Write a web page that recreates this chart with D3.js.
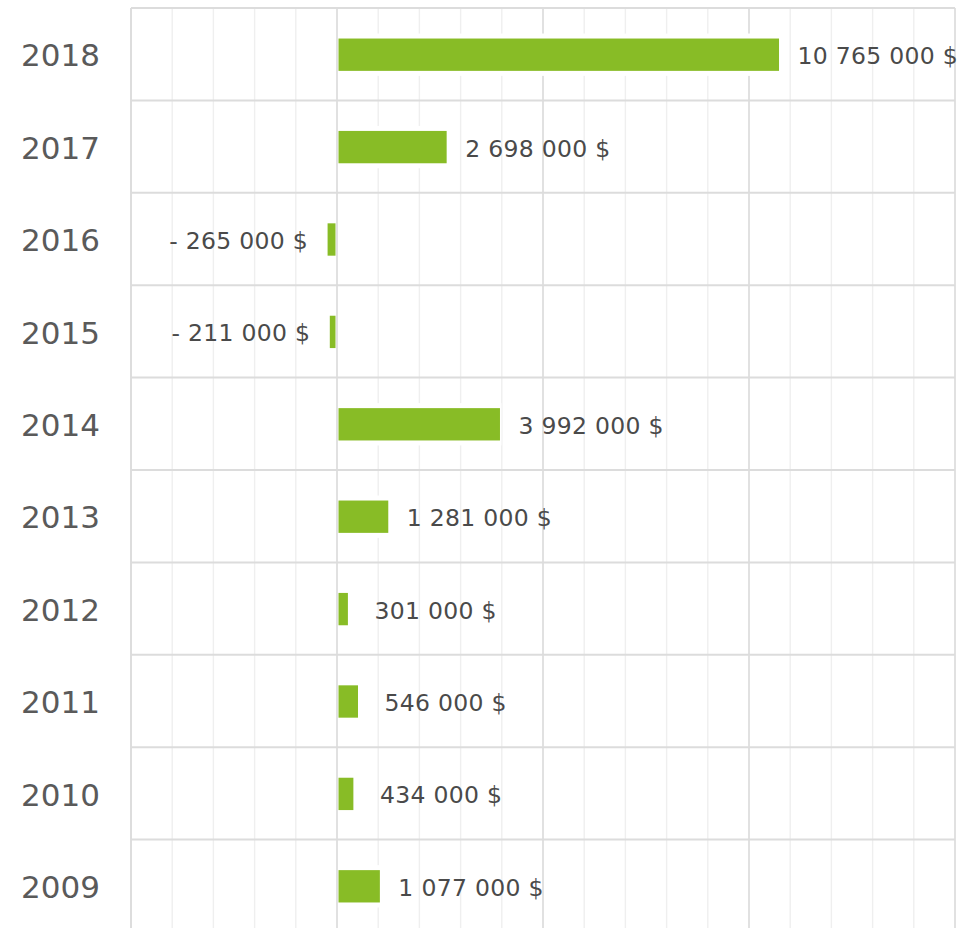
<!DOCTYPE html>
<html>
<head>
<meta charset="utf-8">
<script src="https://cdn.jsdelivr.net/npm/d3@7"></script>
<style>
  html, body { margin: 0; padding: 0; background: #fff; }
  svg { display: block; }
</style>
</head>
<body>
<svg id="chart" width="976" height="928"></svg>
<script>
// years, top to bottom
let years = ['2018', '2017', '2016', '2015', '2014', '2013', '2012', '2011', '2010', '2009']
// net result per year, in dollars
let values = [10765000, 2698000, -265000, -211000, 3992000, 1281000, 301000, 546000, 434000, 1077000]
// grid ticks
let majorTicks = [-5000000, 0, 5000000, 10000000, 15000000]
let minorTicks = d3.range(-5000000, 15000001, 1000000)

let svg = d3.select('#chart')

let x = d3.scaleLinear()
  .domain([-5000000, 15000000])
  .range([131, 955])

let y = d3.scaleBand()
  .domain(years)
  .range([8, 932])

let barH = y.step() * 0.35
let fmt = d3.format(',')
let label = (v) => (v < 0 ? '- ' : '') + fmt(Math.abs(v)).replace(/,/g, ' ') + ' $'

// minor vertical grid
svg.append('g')
  .selectAll('line')
  .data(minorTicks.filter((t) => majorTicks.indexOf(t) < 0))
  .join('line')
    .attr('x1', (d) => x(d))
    .attr('x2', (d) => x(d))
    .attr('y1', y.range()[0])
    .attr('y2', y.range()[1])
    .attr('stroke', '#efefef')
    .attr('stroke-width', 1.4)

// major vertical grid (not the zero line)
svg.append('g')
  .selectAll('line')
  .data(majorTicks.filter((t) => t !== 0))
  .join('line')
    .attr('x1', (d) => x(d))
    .attr('x2', (d) => x(d))
    .attr('y1', y.range()[0])
    .attr('y2', y.range()[1])
    .attr('stroke', '#dcdcdc')
    .attr('stroke-width', 1.7)

// row separators
svg.append('g')
  .selectAll('line')
  .data(years.map((d) => y(d)).concat([y.range()[1]]))
  .join('line')
    .attr('x1', x.range()[0])
    .attr('x2', x.range()[1])
    .attr('y1', (d) => d)
    .attr('y2', (d) => d)
    .attr('stroke', '#dcdcdc')
    .attr('stroke-width', 2)

let rows = svg.append('g')
  .selectAll('g')
  .data(years.map((yr, i) => ({ yr: yr, v: values[i] })))
  .join('g')

let cy = (d) => y(d.yr) + y.step() / 2 + 0.5

// white halo behind bars
rows.append('rect')
  .attr('x', (d) => Math.min(x(0), x(d.v)))
  .attr('width', (d) => Math.abs(x(d.v) - x(0)))
  .attr('y', (d) => cy(d) - barH / 2 - 5)
  .attr('height', barH + 10)
  .attr('fill', '#fff')

// bars
rows.append('rect')
  .attr('x', (d) => Math.min(x(0), x(d.v)) + 1.5)
  .attr('width', (d) => Math.max(1, Math.abs(x(d.v) - x(0)) - 3))
  .attr('y', (d) => cy(d) - barH / 2)
  .attr('height', barH)
  .attr('fill', '#88bc26')

// value labels
rows.append('text')
  .attr('x', (d) => d.v < 0 ? x(d.v) - 18 : x(d.v) + 17 + (d.v < 1000000 ? 8 : 0))
  .attr('y', (d) => cy(d) + 1)
  .attr('dy', '0.36em')
  .attr('text-anchor', (d) => d.v < 0 ? 'end' : 'start')
  .attr('font-family', 'DejaVu Sans, Verdana, sans-serif')
  .attr('font-size', 23.5)
  .attr('letter-spacing', 0.3)
  .attr('fill', '#4a4a4a')
  .text((d) => label(d.v))

// year labels
svg.append('g')
  .selectAll('text')
  .data(years)
  .join('text')
    .attr('x', 100)
    .attr('y', (d) => y(d) + y.step() / 2 + 1)
    .attr('dy', '0.36em')
    .attr('text-anchor', 'end')
    .attr('font-family', 'DejaVu Sans, Verdana, sans-serif')
    .attr('font-size', 31)
    .attr('fill', '#5a5a5a')
    .text((d) => d)

// zero line and left border on top
svg.append('g')
  .selectAll('line')
  .data([x.domain()[0], 0])
  .join('line')
    .attr('x1', (d) => x(d))
    .attr('x2', (d) => x(d))
    .attr('y1', y.range()[0])
    .attr('y2', y.range()[1])
    .attr('stroke', '#dcdcdc')
    .attr('stroke-width', 1.7)
</script>
</body>
</html>
